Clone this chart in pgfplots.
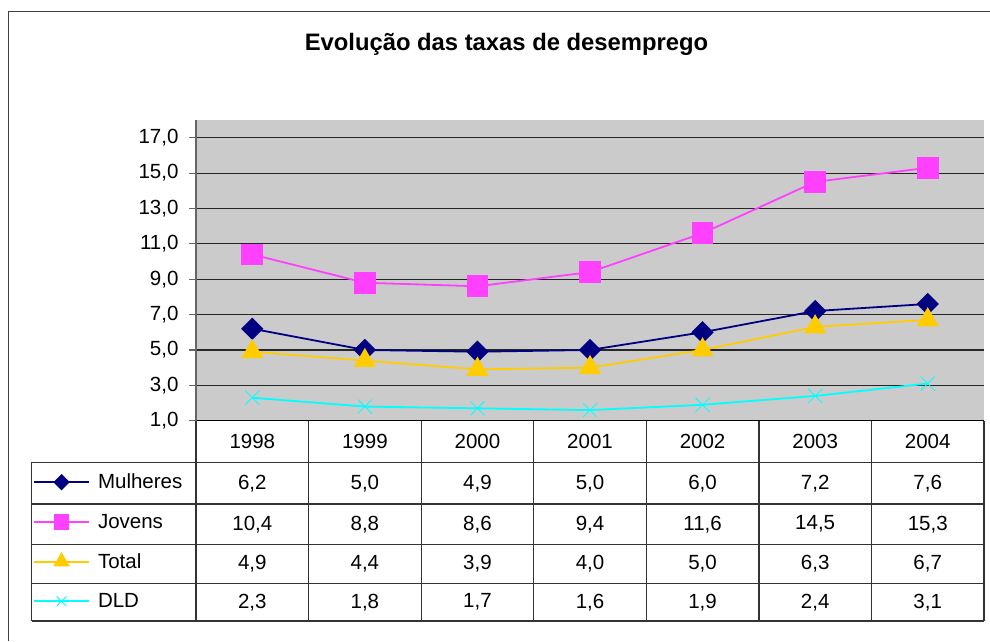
\documentclass[border=0pt]{standalone}
\usepackage{fontspec}
\setmainfont{Liberation Sans}
\usepackage{pgfplots}
\pgfplotsset{compat=1.18}
\definecolor{cNavy}{RGB}{0,0,128}
\definecolor{cPink}{RGB}{255,64,255}
\definecolor{cGold}{RGB}{255,204,0}
\definecolor{cCyan}{RGB}{0,255,255}
\definecolor{cBg}{RGB}{203,203,203}
\newcommand{\tf}{\fontsize{20.5}{24}\selectfont}
\begin{document}
\begin{tikzpicture}[x=1pt,y=1pt]
\useasboundingbox (0,0) rectangle (990,641);
\draw[black!75, line width=1.6pt] (8.5,0) -- (8.5,629.3) -- (990,629.3);
\node[font=\fontsize{23.8}{28}\selectfont\bfseries] at (506.5,597) {Evolução das taxas de desemprego};
\begin{axis}[
  at={(196pt,220.3pt)}, anchor=south west,
  scale only axis, width=788pt, height=300.7pt,
  xmin=-0.5, xmax=6.5, ymin=1, ymax=18,
  axis background/.style={fill=cBg},
  axis x line*=bottom, axis y line*=left,
  x axis line style={black, line width=1.2pt},
  y axis line style={black!60, line width=1.2pt},
  xtick=\empty,
  ytick={1,3,...,17},
  ymajorgrids, grid style={black!85, line width=1.1pt},
  tick align=outside, major tick length=7pt,
  y tick style={black!60, line width=1.1pt},
  yticklabel style={/pgf/number format/fixed, /pgf/number format/fixed zerofill,
    /pgf/number format/precision=1, /pgf/number format/use comma,
    /pgf/number format/assume math mode=true, font=\tf, xshift=-7pt},
  legend style={at={(-0.2068,-0.1383)}, anchor=north west, draw=none, fill=none,
    inner sep=0pt, outer sep=0pt, row sep=0pt, column sep=8pt, font=\tf,
    nodes={inner sep=0pt, minimum height=39.7pt}},
  legend cell align=left,
  legend image code/.code={\draw[mark repeat=2,mark phase=2,#1, line width=2pt, every mark/.append style={scale=0.68}] plot coordinates {(0pt,0pt) (27.5pt,0pt) (55pt,0pt)};},
]
\addplot[cNavy, line width=1.8pt, mark=square*, mark size=7pt, mark options={rotate=45, solid, fill=cNavy}] coordinates {(0,6.2) (1,5.0) (2,4.9) (3,5.0) (4,6.0) (5,7.2) (6,7.6)};
\addlegendentry{Mulheres}
\addplot[cPink, line width=1.8pt, mark=square*, mark size=10pt, mark options={solid, fill=cPink}] coordinates {(0,10.4) (1,8.8) (2,8.6) (3,9.4) (4,11.6) (5,14.5) (6,15.3)};
\addlegendentry{Jovens}
\addplot[cGold, line width=1.8pt, mark=triangle*, mark size=11pt, mark options={solid, fill=cGold}] coordinates {(0,4.9) (1,4.4) (2,3.9) (3,4.0) (4,5.0) (5,6.3) (6,6.7)};
\addlegendentry{Total}
\addplot[cCyan, line width=1.8pt, mark=x, mark size=10pt, mark options={solid, line width=0.8pt}] coordinates {(0,2.3) (1,1.8) (2,1.7) (3,1.6) (4,1.9) (5,2.4) (6,3.1)};
\addlegendentry{DLD}
\end{axis}
% data table grid
\begin{scope}[black!80, line width=1.2pt]
\foreach \yy in {178.7,137,96.7,57.7,20} \draw (31.7,\yy) -- (984,\yy);
\draw (31.7,178.7) -- (31.7,20);
\foreach \xx in {196,308.6,421.1,533.7,646.3,758.9,871.4,984} \draw (\xx,220.3) -- (\xx,20);
\end{scope}
\begin{scope}[font=\tf]
\foreach \t [count=\i from 0] in {1998,1999,2000,2001,2002,2003,2004}
  \node at (252.3+112.57*\i,199.5) {\t};
\foreach \t [count=\i from 0] in {{6,2},{5,0},{4,9},{5,0},{6,0},{7,2},{7,6}}
  \node at (252.3+112.57*\i,157.8) {\t};
\foreach \t [count=\i from 0] in {{10,4},{8,8},{8,6},{9,4},{11,6},{14,5},{15,3}}
  \node at (252.3+112.57*\i,116.8) {\t};
\foreach \t [count=\i from 0] in {{4,9},{4,4},{3,9},{4,0},{5,0},{6,3},{6,7}}
  \node at (252.3+112.57*\i,77.2) {\t};
\foreach \t [count=\i from 0] in {{2,3},{1,8},{1,7},{1,6},{1,9},{2,4},{3,1}}
  \node at (252.3+112.57*\i,38.8) {\t};
\end{scope}
\end{tikzpicture}
\end{document}
